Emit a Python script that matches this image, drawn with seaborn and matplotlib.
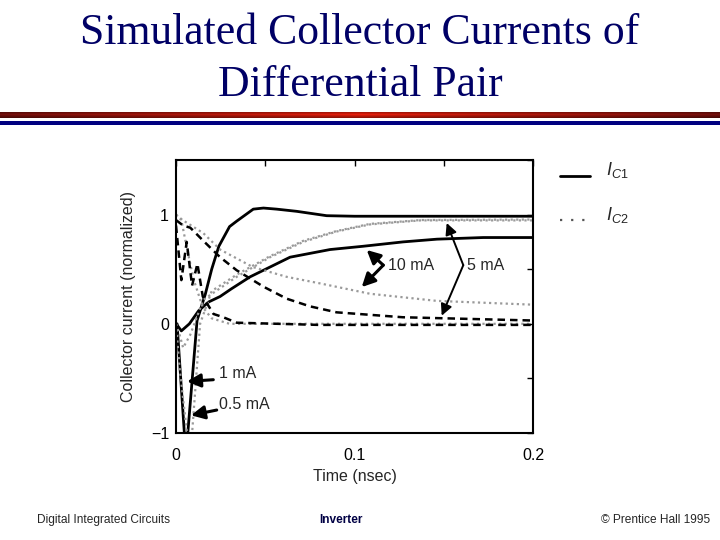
import numpy as np
import pandas as pd
import matplotlib
matplotlib.use("Agg")
import matplotlib.pyplot as plt
from matplotlib.lines import Line2D
import seaborn as sns

sns.set_theme(style="white")
plt.rcParams['font.family'] = ['Liberation Sans', 'DejaVu Sans']
plt.rcParams['mathtext.fontset'] = 'custom'
plt.rcParams['mathtext.it'] = 'Liberation Sans:italic'
plt.rcParams['mathtext.rm'] = 'Liberation Sans'

# ---- data (time in nsec, current normalized) ----
t_1mA_c1 = [0.0, 0.0006, 0.005, 0.0062, 0.0118, 0.0164, 0.020, 0.024, 0.030, 0.034, 0.0433, 0.049, 0.0564, 0.0676, 0.0844, 0.10, 0.2]
i_1mA_c1 = [0.0, 0.0, -1.08, -1.08, 0.03, 0.27, 0.5, 0.71, 0.89, 0.94, 1.05, 1.06, 1.05, 1.03, 0.99, 0.985, 0.985]

t_10mA_c1 = [0.0, 0.001, 0.003, 0.0075, 0.0127, 0.0183, 0.0247, 0.031, 0.0415, 0.0639, 0.0863, 0.1048, 0.1272, 0.1462, 0.1721, 0.2]
i_10mA_c1 = [0.0, -0.02, -0.065, 0.0, 0.12, 0.2, 0.25, 0.32, 0.43, 0.61, 0.68, 0.71, 0.75, 0.775, 0.79, 0.79]

t_5mA_c2 = [0.0, 0.002, 0.004, 0.008, 0.0153, 0.034, 0.0527, 0.0713, 0.09, 0.1087, 0.137, 0.2]
i_5mA_c2 = [0.0, -0.1, -0.22, -0.1, 0.22, 0.43, 0.61, 0.75, 0.845, 0.91, 0.947, 0.947]

t_10mA_c2 = [0.0, 0.0037, 0.0153, 0.0247, 0.043, 0.062, 0.0807, 0.1087, 0.146, 0.2]
i_10mA_c2 = [1.0, 0.95, 0.83, 0.68, 0.52, 0.43, 0.37, 0.275, 0.21, 0.175]

t_5mA_c1 = [0.0, 0.004, 0.008, 0.0153, 0.0247, 0.034, 0.049, 0.062, 0.075, 0.09, 0.127, 0.2]
i_5mA_c1 = [0.95, 0.9, 0.88, 0.76, 0.61, 0.49, 0.34, 0.23, 0.16, 0.105, 0.06, 0.03]

t_1mA_c2 = [0.0, 0.003, 0.006, 0.009, 0.012, 0.015, 0.021, 0.0265, 0.034, 0.08, 0.2]
i_1mA_c2 = [0.9, 0.4, 0.75, 0.35, 0.55, 0.25, 0.09, 0.06, 0.01, -0.01, -0.01]

t_1mA_c2b = [0.0, 0.003, 0.006, 0.01, 0.015, 0.02, 0.03, 0.2]
i_1mA_c2b = [1.0, 0.95, 0.7, 0.4, 0.15, 0.05, 0.0, 0.0]

t_05mA_c2 = [0.0, 0.002, 0.0065, 0.0088, 0.0135, 0.02, 0.034, 0.0527, 0.0713, 0.09, 0.1087, 0.137, 0.2]
i_05mA_c2 = [0.0, -0.4, -1.05, -1.05, 0.0, 0.3, 0.45, 0.62, 0.76, 0.85, 0.915, 0.95, 0.955]

x_ticks = [0, 0.1, 0.2]
y_ticks = [-1, 0, 1]

curves = [
    (t_1mA_c1, i_1mA_c1, 'solid'),
    (t_10mA_c1, i_10mA_c1, 'solid'),
    (t_5mA_c2, i_5mA_c2, 'dotted'),
    (t_10mA_c2, i_10mA_c2, 'dotted'),
    (t_05mA_c2, i_05mA_c2, 'dotted'),
    (t_1mA_c2b, i_1mA_c2b, 'dotted'),
    (t_5mA_c1, i_5mA_c1, 'dashed'),
    (t_1mA_c2, i_1mA_c2, 'dashed'),
]

styles = {
    'solid': dict(color='black', lw=2.0, ls='-'),
    'dotted': dict(color='#9a9a9a', lw=1.6, ls=(0, (1, 1.5))),
    'dashed': dict(color='black', lw=1.8, ls=(0, (3, 2))),
}

fig = plt.figure(figsize=(7.2, 5.4), dpi=100)
ax = fig.add_axes([176/720, 1-433/540, 357/720, 273/540])

for t, i, st in curves:
    df = pd.DataFrame({'time': t, 'current': i})
    s = styles[st]
    sns.lineplot(data=df, x='time', y='current', ax=ax, estimator=None, sort=False,
                 color=s['color'], linewidth=s['lw'], linestyle=s['ls'], legend=False)

ax.set_xlim(0, 0.2)
ax.set_ylim(-1, 1.5)
ax.set_xticks(x_ticks)
ax.set_xticklabels(['0', '0.1', '0.2'])
ax.set_yticks(y_ticks)
ax.set_yticklabels(['\u22121', '0', '1'])
ax.set_xticks(np.arange(0, 0.2001, 0.05), minor=True)
ax.set_yticks(np.arange(-1, 1.501, 0.5), minor=True)
ax.tick_params(axis='both', which='both', direction='in', top=True, right=True,
               length=4, width=1, labelsize=11.5, colors='black')
ax.tick_params(axis='x', which='major', pad=11)
ax.tick_params(axis='y', which='major', pad=5)
ax.tick_params(which='minor', labelbottom=False)
for sp in ax.spines.values():
    sp.set_color('black')
    sp.set_linewidth(1.5)
ax.set_xlabel('Time (nsec)', fontsize=11.5, labelpad=4)
ax.set_ylabel('Collector current (normalized)', fontsize=11.5, labelpad=11)

def px2d(px, py):
    return ((px - 176) / 357 * 0.2, (323 - py) / 108)

arrow = dict(arrowstyle='-|>', color='black', lw=2.2, mutation_scale=20, shrinkA=0, shrinkB=0)

# 10 mA bracket
v = px2d(383.3, 265)
for tip in [px2d(366.7, 250), px2d(361.7, 286.7)]:
    ax.annotate('', xy=tip, xytext=v, arrowprops=arrow)
tx, ty = px2d(388, 265)
ax.text(tx, ty, '10 mA', fontsize=11.5, va='center', ha='left')

# 5 mA bracket
v = px2d(463.3, 265)
for tip in [px2d(446.7, 223.3), px2d(441.7, 315)]:
    ax.annotate('', xy=tip, xytext=v, arrowprops=dict(arrow, lw=1.4, mutation_scale=17))
tx, ty = px2d(467, 265)
ax.text(tx, ty, '5 mA', fontsize=11.5, va='center', ha='left')

# 1 mA
ax.annotate('', xy=px2d(187, 380), xytext=px2d(213.3, 378.3), arrowprops=arrow)
tx, ty = px2d(219, 372)
ax.text(tx, ty, '1 mA', fontsize=11.5, va='center', ha='left')
# 0.5 mA
ax.annotate('', xy=px2d(191, 413.5), xytext=px2d(216.7, 408.3), arrowprops=arrow)
tx, ty = px2d(219, 403)
ax.text(tx, ty, '0.5 mA', fontsize=11.5, va='center', ha='left')

# legend outside
fig.add_artist(Line2D([560/720, 590/720], [1-176/540, 1-176/540], color='black', lw=2))
fig.add_artist(Line2D([560/720, 590/720], [1-220/540, 1-220/540], color='#555555', lw=1.6,
                      ls=(0, (1, 4))))
fig.text(606/720, 1-170/540, r'$I_{C1}$', fontsize=13, va='center', ha='left')
fig.text(606/720, 1-215/540, r'$I_{C2}$', fontsize=13, va='center', ha='left')

# title
fig.text(0.5, 1-44/540, 'Simulated Collector Currents of', fontsize=31.5, ha='center', va='baseline',
         family='Liberation Serif', color='#000066')
fig.text(0.5, 1-96/540, 'Differential Pair', fontsize=31.5, ha='center', va='baseline',
         family='Liberation Serif', color='#000066')

# header bands
rax = fig.add_axes([0, 1-118.5/540, 1, 7/540])
g = np.abs(np.linspace(-1, 1, 256))
dark = np.array([0.45, 0.06, 0.05])
bright = np.array([0.90, 0.12, 0.05])
row = (1 - g)[:, None] * bright + g[:, None] * dark
vert = 1 - 0.35 * np.abs(np.linspace(-1, 1, 7))[:, None, None]
img = row[None, :, :] * vert
rax.imshow(img, aspect='auto', extent=[0, 1, 0, 1])
rax.axis('off')
fig.add_artist(plt.Rectangle((0, 1-125/540), 1, 4.5/540, transform=fig.transFigure,
                             color='#000080', lw=0))

# footer
fig.text(37/720, 1-520/540, 'Digital Integrated Circuits', fontsize=8.6, ha='left', va='center')
fig.text(341/720, 1-520/540, 'Inverter', fontsize=8.6, ha='center', va='center',
         fontweight='bold', color='#000044')
fig.text(710/720, 1-520/540, '\u00a9 Prentice Hall 1995', fontsize=8.6, ha='right', va='center')

fig.savefig('out.png', dpi=100)
